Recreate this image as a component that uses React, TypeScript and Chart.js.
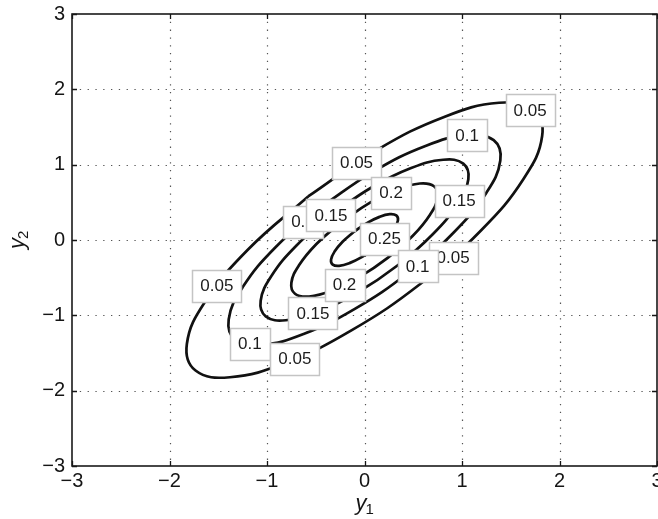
import { useEffect, useRef } from 'react';
import { Chart, registerables } from 'chart.js';

Chart.register(...registerables);

// ---- data -------------------------------------------------------------
const levels = ['0.05', '0.1', '0.15', '0.2', '0.25'];

const contour005: [number, number][] = [
  [-0.578, 0.578], [-1.197, -0.13], [-1.634, -0.817], [-1.822, -1.38], [-1.733, -1.733],
  [-1.38, -1.822], [-0.817, -1.634], [-0.13, -1.197], [0.578, -0.578], [1.197, 0.13],
  [1.634, 0.817], [1.822, 1.38], [1.733, 1.733], [1.38, 1.822], [0.817, 1.634],
  [0.13, 1.197], [-0.578, 0.578],
];
const contour010: [number, number][] = [
  [-0.442, 0.442], [-0.915, -0.099], [-1.249, -0.625], [-1.393, -1.055], [-1.325, -1.325],
  [-1.055, -1.393], [-0.625, -1.249], [-0.099, -0.915], [0.442, -0.442], [0.915, 0.099],
  [1.249, 0.625], [1.393, 1.055], [1.325, 1.325], [1.055, 1.393], [0.625, 1.249],
  [0.099, 0.915], [-0.442, 0.442],
];
const contour015: [number, number][] = [
  [-0.338, 0.338], [-0.7, -0.076], [-0.955, -0.478], [-1.065, -0.807], [-1.013, -1.013],
  [-0.807, -1.065], [-0.478, -0.955], [-0.076, -0.7], [0.338, -0.338], [0.7, 0.076],
  [0.955, 0.478], [1.065, 0.807], [1.013, 1.013], [0.807, 1.065], [0.478, 0.955],
  [0.076, 0.7], [-0.338, 0.338],
];
const contour020: [number, number][] = [
  [-0.238, 0.238], [-0.493, -0.053], [-0.672, -0.336], [-0.75, -0.568], [-0.713, -0.713],
  [-0.568, -0.75], [-0.336, -0.672], [-0.053, -0.493], [0.238, -0.238], [0.493, 0.053],
  [0.672, 0.336], [0.75, 0.568], [0.713, 0.713], [0.568, 0.75], [0.336, 0.672],
  [0.053, 0.493], [-0.238, 0.238],
];
const contour025: [number, number][] = [
  [-0.109, 0.109], [-0.225, -0.024], [-0.307, -0.154], [-0.343, -0.26], [-0.326, -0.326],
  [-0.26, -0.343], [-0.154, -0.307], [-0.024, -0.225], [0.109, -0.109], [0.225, 0.024],
  [0.307, 0.154], [0.343, 0.26], [0.326, 0.326], [0.26, 0.343], [0.154, 0.307],
  [0.024, 0.225], [-0.109, 0.109],
];
const contours = [contour005, contour010, contour015, contour020, contour025];

const tickValues = [-3, -2, -1, 0, 1, 2, 3];
const xTickLabels = ['−3', '−2', '−1', '0', '1', '2', '3'];
const yTickLabels = ['−3', '−2', '−1', '0', '1', '2', '3'];

// contour labels (drawn in this order; later ones lie on top)
const labelTexts = ['0.05', '0.1', '0.05', '0.2', '0.15', '0.25', '0.05', '0.1', '0.1', '0.15', '0.05', '0.15', '0.2', '0.1', '0.05'];
const labelXs = [1.699, 1.052, -0.082, 0.272, 0.97, 0.205, 0.909, 0.544, -0.631, -0.344, -1.514, -0.529, -0.205, -1.176, -0.714];
const labelYs = [1.728, 1.39, 1.025, 0.627, 0.521, 0.017, -0.235, -0.347, 0.243, 0.329, -0.606, -0.971, -0.593, -1.375, -1.574];

const xTitleMain = 'y';
const xTitleSub = '1';
const yTitleMain = 'y';
const yTitleSub = '2';

// ---- styling ------------------------------------------------------------
const FONT = '"Liberation Sans", Arial, Helvetica, sans-serif';
const INK = '#151515';

const axesPlugin = {
  id: 'matlabAxes',
  beforeDatasetsDraw(chart: any) {
    const { ctx, chartArea: a, scales } = chart;
    const xs = scales.x;
    const ys = scales.y;
    ctx.save();
    ctx.strokeStyle = '#555';
    ctx.lineWidth = 1.2;
    ctx.setLineDash([1.3, 6.5]);
    for (const v of tickValues) {
      if (v === tickValues[0] || v === tickValues[tickValues.length - 1]) continue;
      const px = Math.round(xs.getPixelForValue(v)) + 0.5;
      ctx.beginPath();
      ctx.moveTo(px, a.top);
      ctx.lineTo(px, a.bottom);
      ctx.stroke();
      const py = Math.round(ys.getPixelForValue(v)) + 0.5;
      ctx.beginPath();
      ctx.moveTo(a.left, py);
      ctx.lineTo(a.right, py);
      ctx.stroke();
    }
    ctx.restore();
  },
  afterDatasetsDraw(chart: any) {
    const { ctx, chartArea: a, scales } = chart;
    const xs = scales.x;
    const ys = scales.y;
    ctx.save();
    // inward ticks on all four sides
    ctx.strokeStyle = INK;
    ctx.lineWidth = 1.3;
    const tl = 5;
    for (const v of tickValues) {
      const px = Math.round(xs.getPixelForValue(v)) + 0.5;
      const py = Math.round(ys.getPixelForValue(v)) + 0.5;
      ctx.beginPath();
      ctx.moveTo(px, a.bottom); ctx.lineTo(px, a.bottom - tl);
      ctx.moveTo(px, a.top); ctx.lineTo(px, a.top + tl);
      ctx.moveTo(a.left, py); ctx.lineTo(a.left + tl, py);
      ctx.moveTo(a.right, py); ctx.lineTo(a.right - tl, py);
      ctx.stroke();
    }
    // box
    ctx.lineWidth = 1.6;
    ctx.strokeStyle = '#1a1a1a';
    ctx.strokeRect(a.left, a.top, a.right - a.left, a.bottom - a.top);

    // contour labels
    ctx.font = `17px ${FONT}`;
    ctx.textAlign = 'center';
    ctx.textBaseline = 'middle';
    for (let i = 0; i < labelTexts.length; i++) {
      const cx = xs.getPixelForValue(labelXs[i]);
      const cy = ys.getPixelForValue(labelYs[i]);
      const tw = ctx.measureText(labelTexts[i]).width;
      const w = Math.round(tw + 16);
      const h = 32;
      const bx = Math.round(cx - w / 2) + 0.5;
      const by = Math.round(cy - h / 2) + 0.5;
      ctx.fillStyle = '#ffffff';
      ctx.fillRect(bx, by, w, h);
      ctx.strokeStyle = '#c4c4c4';
      ctx.lineWidth = 1.5;
      ctx.strokeRect(bx, by, w, h);
      ctx.fillStyle = '#1c1c1c';
      ctx.fillText(labelTexts[i], cx, cy + 1);
    }
    ctx.restore();
  },
  afterDraw(chart: any) {
    const { ctx, chartArea: a } = chart;
    ctx.save();
    ctx.fillStyle = INK;
    ctx.textAlign = 'left';
    ctx.textBaseline = 'alphabetic';
    // x title
    const cx = (a.left + a.right) / 2;
    ctx.font = `italic 22px ${FONT}`;
    const wy = ctx.measureText(xTitleMain).width;
    const x0 = cx - 9;
    const yb = a.bottom + 44;
    ctx.fillText(xTitleMain, x0, yb);
    ctx.font = `15px ${FONT}`;
    ctx.fillText(xTitleSub, x0 + wy - 1, yb + 4);
    // y title (rotated)
    const cy = (a.top + a.bottom) / 2;
    ctx.translate(24, cy + 9);
    ctx.rotate(-Math.PI / 2);
    ctx.font = `italic 22px ${FONT}`;
    const wy2 = ctx.measureText(yTitleMain).width;
    ctx.fillText(yTitleMain, 0, 0);
    ctx.font = `15px ${FONT}`;
    ctx.fillText(yTitleSub, wy2 - 1, 4);
    ctx.restore();
  },
};

const zeroPad = (s: any) => {
  s.paddingLeft = 0;
  s.paddingRight = 0;
  s.paddingTop = 0;
  s.paddingBottom = 0;
};

export default function App() {
  const canvasRef = useRef<HTMLCanvasElement | null>(null);

  useEffect(() => {
    const canvas = canvasRef.current;
    if (!canvas) return;
    const tickLabel = (labels: string[]) => (value: any) => {
      const i = tickValues.indexOf(Math.round(Number(value)));
      return i >= 0 ? labels[i] : '';
    };
    const chart = new Chart(canvas, {
      type: 'scatter',
      data: {
        datasets: contours.map((c, i) => ({
          label: levels[i],
          data: c.map(([x, y]) => ({ x, y })),
          showLine: true,
          borderColor: '#111111',
          borderWidth: 2.7,
          pointRadius: 0,
          pointHoverRadius: 0,
          tension: 0.42,
          fill: false,
        })),
      },
      options: {
        animation: false,
        responsive: false,
        devicePixelRatio: 1,
        layout: { padding: { top: 14, right: 1, left: 0, bottom: 0 } },
        plugins: { legend: { display: false }, tooltip: { enabled: false } },
        events: [],
        scales: {
          x: {
            type: 'linear',
            min: -3,
            max: 3,
            grid: { display: false, drawTicks: false },
            border: { display: false },
            ticks: {
              stepSize: 1,
              padding: 3,
              color: INK,
              font: { family: FONT, size: 20 },
              callback: tickLabel(xTickLabels),
              maxRotation: 0,
            },
            afterFit: (s: any) => { s.height = 53; zeroPad(s); },
          },
          y: {
            type: 'linear',
            min: -3,
            max: 3,
            grid: { display: false, drawTicks: false },
            border: { display: false },
            ticks: {
              stepSize: 1,
              padding: 7,
              color: INK,
              font: { family: FONT, size: 20 },
              callback: tickLabel(yTickLabels),
            },
            afterFit: (s: any) => { s.width = 72; zeroPad(s); },
          },
        },
      },
      plugins: [axesPlugin],
    });
    return () => chart.destroy();
  }, []);

  return (
    <div style={{ position: 'absolute', left: 0, top: 0, width: 658, height: 519, background: '#fff' }}>
      <canvas ref={canvasRef} width={658} height={519} style={{ display: 'block', width: 658, height: 519 }} />
    </div>
  );
}
